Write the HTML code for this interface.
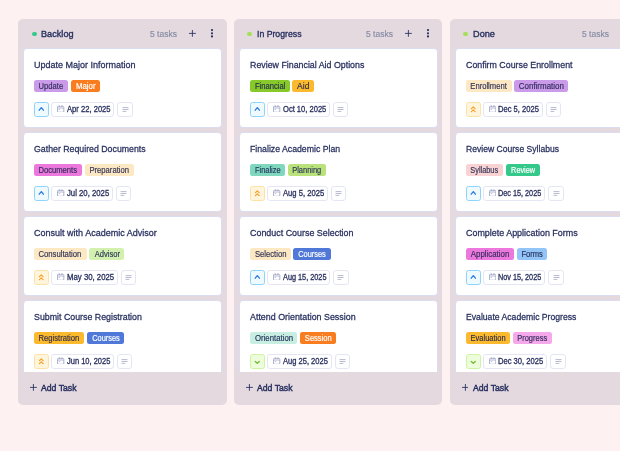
<!DOCTYPE html>
<html><head><meta charset="utf-8"><style>
*{box-sizing:border-box;margin:0;padding:0}
html,body{width:620px;height:451px;overflow:hidden;background:#fdf1f1;font-family:"Liberation Sans",sans-serif;color:#28305f}
.col{position:absolute;top:18.55px;width:208.3px;height:386.5px;background:#e3d9df;border-radius:5px;overflow:hidden}
.page{position:absolute;left:0;top:0;width:620px;height:451px;will-change:transform}
.dot{position:absolute;width:4.8px;height:4.8px;border-radius:50%}
.ttl{position:absolute;transform-origin:0 0;top:10.2px;line-height:10px;white-space:nowrap;font-size:9.4px;-webkit-text-stroke:0.35px #28305f}
.cnt{position:absolute;transform-origin:0 0;top:10.0px;line-height:10px;white-space:nowrap;font-size:8.5px;color:#878aa5;-webkit-text-stroke:0.15px #878aa5}
.plus{position:absolute;top:11.85px;width:6.8px;height:6.8px}
.kb{position:absolute;top:10.45px;width:4px;height:10px}
.list{position:absolute;left:4.75px;top:29.8px;width:199px;height:323.45px;overflow:hidden}
.card{position:absolute;left:0;width:198.8px;height:79.6px;background:#fff;border:1px solid #dadcf1;border-radius:4px}
.ct{position:absolute;transform-origin:0 0;top:10.4px;line-height:10px;white-space:nowrap;font-size:9.7px;-webkit-text-stroke:0.28px #28305f}
.tags{position:absolute;left:10.1px;top:30.4px;height:12px;display:flex}
.tag{position:absolute;top:30.4px;height:12px;line-height:12px;padding-top:0.7px;text-align:center;border-radius:2.5px;white-space:nowrap;font-size:8.6px;-webkit-text-stroke:0.18px currentColor}
.pr{position:absolute;left:10.1px;top:52.5px;width:15.0px;height:14.7px;border-radius:2.5px}
.pr svg{position:absolute;left:-0.9px;top:-0.9px}
.pu{background:#effaff;border:0.9px solid #8ed3fb}
.pd{background:#fff5dc;border:0.9px solid #fde2a6}
.pg{background:#edfcdb;border:0.9px solid #d0f2a3}
.dt{position:absolute;top:52.5px;height:14.7px;border:0.9px solid #e5e6f4;border-radius:3px}
.cal{position:absolute;left:4.9px;top:2.0px}
.dtx{position:absolute;transform-origin:0 0;top:2.0px;line-height:10px;white-space:nowrap;color:#2a3160;font-size:8.2px;-webkit-text-stroke:0.3px #2a3160}
.nb{position:absolute;top:52.5px;width:15.5px;height:14.7px;border:0.9px solid #e5e6f4;border-radius:3px;display:flex;align-items:center;justify-content:center}
.add{position:absolute;top:364.3px;line-height:10px;white-space:nowrap}
.add svg{position:absolute;left:0;top:1.2px}
.add span{position:absolute;transform-origin:0 0;top:0;font-size:9.2px;-webkit-text-stroke:0.45px #28305f}
.tag i{font-style:normal;display:inline-block;transform-origin:50% 50%}
</style></head><body><div class="page">

<div class="col" style="left:18.35px">
<div class="dot" style="background:#34c98b;left:13.40px;top:13.05px"></div>
<div class="ttl" style="left:23.01px;transform:scaleX(0.9767)">Backlog</div>
<div class="cnt" style="left:131.60px;transform:scaleX(1.0011)">5 tasks</div>
<svg class="plus" style="left:170.65px" viewBox="0 0 7 7"><path d="M3.5 0 V7 M0 3.5 H7" stroke="#28305f" stroke-width="0.9"/></svg>
<svg class="kb" style="left:191.6px" viewBox="0 0 4 10"><circle cx="2" cy="1.1" r="1.1" fill="#28305f"/><circle cx="2" cy="4.3" r="1.1" fill="#28305f"/><circle cx="2" cy="7.45" r="1.1" fill="#28305f"/></svg>
<div class="list">
<div class="card" style="top:0.00px">
<div class="ct" style="left:10.06px;transform:scaleX(0.9298)">Update Major Information</div>
<span class="tag" style="left:10.10px;width:33.9px;background:#c99be8;color:#352d5e"><i style="transform:scaleX(0.8841)">Update</i></span><span class="tag" style="left:46.93px;width:29.2px;background:#f97c1f;color:#ffffff"><i style="transform:scaleX(0.9121)">Major</i></span>
<div class="pr pu"><svg width="15" height="14.7" viewBox="0 0 15 14.7"><path d="M5.2 8.2 L7.3 5.6 L9.4 8.2" fill="none" stroke="#2f7fe0" stroke-width="1.35" stroke-linecap="round" stroke-linejoin="round"/></svg></div>
<div class="dt" style="left:27.40px;width:62.80px"><svg class="cal" width="7.4" height="7.6" viewBox="0 0 7.4 7.6"><rect x="0.45" y="1.35" width="6.4" height="5.9" rx="0.9" fill="none" stroke="#8e93ba" stroke-width="0.75"/><path d="M0.7 3.0 H6.6" stroke="#8e93ba" stroke-width="0.7"/><rect x="0.8" y="1.6" width="5.7" height="1.4" fill="#d9dbeb"/><path d="M2.3 0.4 V2.0 M4.9 0.4 V2.0" stroke="#8e93ba" stroke-width="0.7"/><circle cx="2.3" cy="4.5" r="0.55" fill="#9a9ec4"/></svg><div class="dtx" style="left:14.38px;transform:scaleX(0.9296)">Apr 22, 2025</div></div>
<div class="nb" style="left:93.20px"><svg width="7" height="5" viewBox="0 0 7 5"><path d="M0.5 0.6 H6.5 M0.5 2.5 H6.5 M0.5 4.4 H4.3" stroke="#9fa3c1" stroke-width="0.75"/></svg></div>
</div>
<div class="card" style="top:84.00px">
<div class="ct" style="left:10.19px;transform:scaleX(0.9054)">Gather Required Documents</div>
<span class="tag" style="left:10.10px;width:48.0px;background:#ec78dd;color:#352d5e"><i style="transform:scaleX(0.8855)">Documents</i></span><span class="tag" style="left:61.25px;width:48.6px;background:#fde8c4;color:#343558"><i style="transform:scaleX(0.8901)">Preparation</i></span>
<div class="pr pu"><svg width="15" height="14.7" viewBox="0 0 15 14.7"><path d="M5.2 8.2 L7.3 5.6 L9.4 8.2" fill="none" stroke="#2f7fe0" stroke-width="1.35" stroke-linecap="round" stroke-linejoin="round"/></svg></div>
<div class="dt" style="left:27.40px;width:61.40px"><svg class="cal" width="7.4" height="7.6" viewBox="0 0 7.4 7.6"><rect x="0.45" y="1.35" width="6.4" height="5.9" rx="0.9" fill="none" stroke="#8e93ba" stroke-width="0.75"/><path d="M0.7 3.0 H6.6" stroke="#8e93ba" stroke-width="0.7"/><rect x="0.8" y="1.6" width="5.7" height="1.4" fill="#d9dbeb"/><path d="M2.3 0.4 V2.0 M4.9 0.4 V2.0" stroke="#8e93ba" stroke-width="0.7"/><circle cx="2.3" cy="4.5" r="0.55" fill="#9a9ec4"/></svg><div class="dtx" style="left:14.29px;transform:scaleX(0.9463)">Jul 20, 2025</div></div>
<div class="nb" style="left:91.80px"><svg width="7" height="5" viewBox="0 0 7 5"><path d="M0.5 0.6 H6.5 M0.5 2.5 H6.5 M0.5 4.4 H4.3" stroke="#9fa3c1" stroke-width="0.75"/></svg></div>
</div>
<div class="card" style="top:168.00px">
<div class="ct" style="left:10.17px;transform:scaleX(0.9311)">Consult with Academic Advisor</div>
<span class="tag" style="left:10.10px;width:52.4px;background:#fde8c4;color:#343558"><i style="transform:scaleX(0.9001)">Consultation</i></span><span class="tag" style="left:65.30px;width:35.0px;background:#d3f0ae;color:#2d3a5a"><i style="transform:scaleX(0.8794)">Advisor</i></span>
<div class="pr pd"><svg width="15" height="14.7" viewBox="0 0 15 14.7"><path d="M5.4 6.65 L7.25 4.95 L9.1 6.65 M5.4 9.6 L7.25 7.9 L9.1 9.6" fill="none" stroke="#f8a12a" stroke-width="1.25" stroke-linecap="round" stroke-linejoin="round"/></svg></div>
<div class="dt" style="left:27.40px;width:66.20px"><svg class="cal" width="7.4" height="7.6" viewBox="0 0 7.4 7.6"><rect x="0.45" y="1.35" width="6.4" height="5.9" rx="0.9" fill="none" stroke="#8e93ba" stroke-width="0.75"/><path d="M0.7 3.0 H6.6" stroke="#8e93ba" stroke-width="0.7"/><rect x="0.8" y="1.6" width="5.7" height="1.4" fill="#d9dbeb"/><path d="M2.3 0.4 V2.0 M4.9 0.4 V2.0" stroke="#8e93ba" stroke-width="0.7"/><circle cx="2.3" cy="4.5" r="0.55" fill="#9a9ec4"/></svg><div class="dtx" style="left:14.12px;transform:scaleX(0.9512)">May 30, 2025</div></div>
<div class="nb" style="left:96.60px"><svg width="7" height="5" viewBox="0 0 7 5"><path d="M0.5 0.6 H6.5 M0.5 2.5 H6.5 M0.5 4.4 H4.3" stroke="#9fa3c1" stroke-width="0.75"/></svg></div>
</div>
<div class="card" style="top:252.00px">
<div class="ct" style="left:10.07px;transform:scaleX(0.9105)">Submit Course Registration</div>
<span class="tag" style="left:10.10px;width:49.9px;background:#fbb92e;color:#33304a"><i style="transform:scaleX(0.8878)">Registration</i></span><span class="tag" style="left:63.00px;width:37.0px;background:#4f78d8;color:#ffffff"><i style="transform:scaleX(0.8577)">Courses</i></span>
<div class="pr pd"><svg width="15" height="14.7" viewBox="0 0 15 14.7"><path d="M5.4 6.65 L7.25 4.95 L9.1 6.65 M5.4 9.6 L7.25 7.9 L9.1 9.6" fill="none" stroke="#f8a12a" stroke-width="1.25" stroke-linecap="round" stroke-linejoin="round"/></svg></div>
<div class="dt" style="left:27.40px;width:62.30px"><svg class="cal" width="7.4" height="7.6" viewBox="0 0 7.4 7.6"><rect x="0.45" y="1.35" width="6.4" height="5.9" rx="0.9" fill="none" stroke="#8e93ba" stroke-width="0.75"/><path d="M0.7 3.0 H6.6" stroke="#8e93ba" stroke-width="0.7"/><rect x="0.8" y="1.6" width="5.7" height="1.4" fill="#d9dbeb"/><path d="M2.3 0.4 V2.0 M4.9 0.4 V2.0" stroke="#8e93ba" stroke-width="0.7"/><circle cx="2.3" cy="4.5" r="0.55" fill="#9a9ec4"/></svg><div class="dtx" style="left:14.30px;transform:scaleX(0.9147)">Jun 10, 2025</div></div>
<div class="nb" style="left:92.70px"><svg width="7" height="5" viewBox="0 0 7 5"><path d="M0.5 0.6 H6.5 M0.5 2.5 H6.5 M0.5 4.4 H4.3" stroke="#9fa3c1" stroke-width="0.75"/></svg></div>
</div>
</div>
<div class="add" style="left:11.75px"><svg width="6.8" height="6.8" viewBox="0 0 7 7"><path d="M3.5 0 V7 M0 3.5 H7" stroke="#28305f" stroke-width="0.9"/></svg><span style="left:11.09px;transform:scaleX(0.9437)">Add Task</span></div>
</div>
<div class="col" style="left:234.15px">
<div class="dot" style="background:#a5e05a;left:13.10px;top:13.05px"></div>
<div class="ttl" style="left:23.25px;transform:scaleX(0.9280)">In Progress</div>
<div class="cnt" style="left:131.60px;transform:scaleX(1.0011)">5 tasks</div>
<svg class="plus" style="left:170.65px" viewBox="0 0 7 7"><path d="M3.5 0 V7 M0 3.5 H7" stroke="#28305f" stroke-width="0.9"/></svg>
<svg class="kb" style="left:191.6px" viewBox="0 0 4 10"><circle cx="2" cy="1.1" r="1.1" fill="#28305f"/><circle cx="2" cy="4.3" r="1.1" fill="#28305f"/><circle cx="2" cy="7.45" r="1.1" fill="#28305f"/></svg>
<div class="list">
<div class="card" style="top:0.00px">
<div class="ct" style="left:10.04px;transform:scaleX(0.9114)">Review Financial Aid Options</div>
<span class="tag" style="left:10.10px;width:39.7px;background:#86c928;color:#263250"><i style="transform:scaleX(0.8901)">Financial</i></span><span class="tag" style="left:52.16px;width:21.7px;background:#fbb92e;color:#33304a"><i style="transform:scaleX(0.9904)">Aid</i></span>
<div class="pr pu"><svg width="15" height="14.7" viewBox="0 0 15 14.7"><path d="M5.2 8.2 L7.3 5.6 L9.4 8.2" fill="none" stroke="#2f7fe0" stroke-width="1.35" stroke-linecap="round" stroke-linejoin="round"/></svg></div>
<div class="dt" style="left:27.40px;width:62.40px"><svg class="cal" width="7.4" height="7.6" viewBox="0 0 7.4 7.6"><rect x="0.45" y="1.35" width="6.4" height="5.9" rx="0.9" fill="none" stroke="#8e93ba" stroke-width="0.75"/><path d="M0.7 3.0 H6.6" stroke="#8e93ba" stroke-width="0.7"/><rect x="0.8" y="1.6" width="5.7" height="1.4" fill="#d9dbeb"/><path d="M2.3 0.4 V2.0 M4.9 0.4 V2.0" stroke="#8e93ba" stroke-width="0.7"/><circle cx="2.3" cy="4.5" r="0.55" fill="#9a9ec4"/></svg><div class="dtx" style="left:14.25px;transform:scaleX(0.9237)">Oct 10, 2025</div></div>
<div class="nb" style="left:92.80px"><svg width="7" height="5" viewBox="0 0 7 5"><path d="M0.5 0.6 H6.5 M0.5 2.5 H6.5 M0.5 4.4 H4.3" stroke="#9fa3c1" stroke-width="0.75"/></svg></div>
</div>
<div class="card" style="top:84.00px">
<div class="ct" style="left:10.04px;transform:scaleX(0.9000)">Finalize Academic Plan</div>
<span class="tag" style="left:10.10px;width:34.8px;background:#7fd8bd;color:#263a5e"><i style="transform:scaleX(0.8611)">Finalize</i></span><span class="tag" style="left:47.70px;width:38.1px;background:#b9e27a;color:#2d3a5a"><i style="transform:scaleX(0.8651)">Planning</i></span>
<div class="pr pd"><svg width="15" height="14.7" viewBox="0 0 15 14.7"><path d="M5.4 6.65 L7.25 4.95 L9.1 6.65 M5.4 9.6 L7.25 7.9 L9.1 9.6" fill="none" stroke="#f8a12a" stroke-width="1.25" stroke-linecap="round" stroke-linejoin="round"/></svg></div>
<div class="dt" style="left:27.40px;width:60.40px"><svg class="cal" width="7.4" height="7.6" viewBox="0 0 7.4 7.6"><rect x="0.45" y="1.35" width="6.4" height="5.9" rx="0.9" fill="none" stroke="#8e93ba" stroke-width="0.75"/><path d="M0.7 3.0 H6.6" stroke="#8e93ba" stroke-width="0.7"/><rect x="0.8" y="1.6" width="5.7" height="1.4" fill="#d9dbeb"/><path d="M2.3 0.4 V2.0 M4.9 0.4 V2.0" stroke="#8e93ba" stroke-width="0.7"/><circle cx="2.3" cy="4.5" r="0.55" fill="#9a9ec4"/></svg><div class="dtx" style="left:14.38px;transform:scaleX(0.9350)">Aug 5, 2025</div></div>
<div class="nb" style="left:90.80px"><svg width="7" height="5" viewBox="0 0 7 5"><path d="M0.5 0.6 H6.5 M0.5 2.5 H6.5 M0.5 4.4 H4.3" stroke="#9fa3c1" stroke-width="0.75"/></svg></div>
</div>
<div class="card" style="top:168.00px">
<div class="ct" style="left:10.18px;transform:scaleX(0.9196)">Conduct Course Selection</div>
<span class="tag" style="left:10.10px;width:40.6px;background:#fde8c4;color:#343558"><i style="transform:scaleX(0.8915)">Selection</i></span><span class="tag" style="left:53.50px;width:37.2px;background:#4f78d8;color:#ffffff"><i style="transform:scaleX(0.8641)">Courses</i></span>
<div class="pr pu"><svg width="15" height="14.7" viewBox="0 0 15 14.7"><path d="M5.2 8.2 L7.3 5.6 L9.4 8.2" fill="none" stroke="#2f7fe0" stroke-width="1.35" stroke-linecap="round" stroke-linejoin="round"/></svg></div>
<div class="dt" style="left:27.40px;width:62.90px"><svg class="cal" width="7.4" height="7.6" viewBox="0 0 7.4 7.6"><rect x="0.45" y="1.35" width="6.4" height="5.9" rx="0.9" fill="none" stroke="#8e93ba" stroke-width="0.75"/><path d="M0.7 3.0 H6.6" stroke="#8e93ba" stroke-width="0.7"/><rect x="0.8" y="1.6" width="5.7" height="1.4" fill="#d9dbeb"/><path d="M2.3 0.4 V2.0 M4.9 0.4 V2.0" stroke="#8e93ba" stroke-width="0.7"/><circle cx="2.3" cy="4.5" r="0.55" fill="#9a9ec4"/></svg><div class="dtx" style="left:14.39px;transform:scaleX(0.8931)">Aug 15, 2025</div></div>
<div class="nb" style="left:93.30px"><svg width="7" height="5" viewBox="0 0 7 5"><path d="M0.5 0.6 H6.5 M0.5 2.5 H6.5 M0.5 4.4 H4.3" stroke="#9fa3c1" stroke-width="0.75"/></svg></div>
</div>
<div class="card" style="top:252.00px">
<div class="ct" style="left:10.38px;transform:scaleX(0.9162)">Attend Orientation Session</div>
<span class="tag" style="left:10.10px;width:47.4px;background:#c8eee2;color:#28365e"><i style="transform:scaleX(0.9052)">Orientation</i></span><span class="tag" style="left:60.30px;width:35.8px;background:#f97c1f;color:#ffffff"><i style="transform:scaleX(0.8790)">Session</i></span>
<div class="pr pg"><svg width="15" height="14.7" viewBox="0 0 15 14.7"><path d="M5.2 7.4 L7.25 9.2 L9.3 7.4" fill="none" stroke="#74be38" stroke-width="1.35" stroke-linecap="round" stroke-linejoin="round"/></svg></div>
<div class="dt" style="left:27.40px;width:64.30px"><svg class="cal" width="7.4" height="7.6" viewBox="0 0 7.4 7.6"><rect x="0.45" y="1.35" width="6.4" height="5.9" rx="0.9" fill="none" stroke="#8e93ba" stroke-width="0.75"/><path d="M0.7 3.0 H6.6" stroke="#8e93ba" stroke-width="0.7"/><rect x="0.8" y="1.6" width="5.7" height="1.4" fill="#d9dbeb"/><path d="M2.3 0.4 V2.0 M4.9 0.4 V2.0" stroke="#8e93ba" stroke-width="0.7"/><circle cx="2.3" cy="4.5" r="0.55" fill="#9a9ec4"/></svg><div class="dtx" style="left:14.38px;transform:scaleX(0.9221)">Aug 25, 2025</div></div>
<div class="nb" style="left:94.70px"><svg width="7" height="5" viewBox="0 0 7 5"><path d="M0.5 0.6 H6.5 M0.5 2.5 H6.5 M0.5 4.4 H4.3" stroke="#9fa3c1" stroke-width="0.75"/></svg></div>
</div>
</div>
<div class="add" style="left:11.75px"><svg width="6.8" height="6.8" viewBox="0 0 7 7"><path d="M3.5 0 V7 M0 3.5 H7" stroke="#28305f" stroke-width="0.9"/></svg><span style="left:11.09px;transform:scaleX(0.9437)">Add Task</span></div>
</div>
<div class="col" style="left:449.95px">
<div class="dot" style="background:#a5e05a;left:13.10px;top:13.05px"></div>
<div class="ttl" style="left:23.00px;transform:scaleX(0.9793)">Done</div>
<div class="cnt" style="left:132.00px;transform:scaleX(1.0011)">5 tasks</div>
<svg class="plus" style="left:170.65px" viewBox="0 0 7 7"><path d="M3.5 0 V7 M0 3.5 H7" stroke="#28305f" stroke-width="0.9"/></svg>
<svg class="kb" style="left:191.6px" viewBox="0 0 4 10"><circle cx="2" cy="1.1" r="1.1" fill="#28305f"/><circle cx="2" cy="4.3" r="1.1" fill="#28305f"/><circle cx="2" cy="7.45" r="1.1" fill="#28305f"/></svg>
<div class="list">
<div class="card" style="top:0.00px">
<div class="ct" style="left:10.18px;transform:scaleX(0.9116)">Confirm Course Enrollment</div>
<span class="tag" style="left:10.10px;width:45.9px;background:#fde8c4;color:#343558"><i style="transform:scaleX(0.8888)">Enrollment</i></span><span class="tag" style="left:58.17px;width:54.6px;background:#c99be8;color:#352d5e"><i style="transform:scaleX(0.9273)">Confirmation</i></span>
<div class="pr pd"><svg width="15" height="14.7" viewBox="0 0 15 14.7"><path d="M5.4 6.65 L7.25 4.95 L9.1 6.65 M5.4 9.6 L7.25 7.9 L9.1 9.6" fill="none" stroke="#f8a12a" stroke-width="1.25" stroke-linecap="round" stroke-linejoin="round"/></svg></div>
<div class="dt" style="left:27.40px;width:59.80px"><svg class="cal" width="7.4" height="7.6" viewBox="0 0 7.4 7.6"><rect x="0.45" y="1.35" width="6.4" height="5.9" rx="0.9" fill="none" stroke="#8e93ba" stroke-width="0.75"/><path d="M0.7 3.0 H6.6" stroke="#8e93ba" stroke-width="0.7"/><rect x="0.8" y="1.6" width="5.7" height="1.4" fill="#d9dbeb"/><path d="M2.3 0.4 V2.0 M4.9 0.4 V2.0" stroke="#8e93ba" stroke-width="0.7"/><circle cx="2.3" cy="4.5" r="0.55" fill="#9a9ec4"/></svg><div class="dtx" style="left:14.13px;transform:scaleX(0.9269)">Dec 5, 2025</div></div>
<div class="nb" style="left:90.20px"><svg width="7" height="5" viewBox="0 0 7 5"><path d="M0.5 0.6 H6.5 M0.5 2.5 H6.5 M0.5 4.4 H4.3" stroke="#9fa3c1" stroke-width="0.75"/></svg></div>
</div>
<div class="card" style="top:84.00px">
<div class="ct" style="left:10.05px;transform:scaleX(0.8857)">Review Course Syllabus</div>
<span class="tag" style="left:10.10px;width:37.3px;background:#f9d3d3;color:#343558"><i style="transform:scaleX(0.8557)">Syllabus</i></span><span class="tag" style="left:50.40px;width:33.7px;background:#34c98b;color:#ffffff"><i style="transform:scaleX(0.8510)">Review</i></span>
<div class="pr pu"><svg width="15" height="14.7" viewBox="0 0 15 14.7"><path d="M5.2 8.2 L7.3 5.6 L9.4 8.2" fill="none" stroke="#2f7fe0" stroke-width="1.35" stroke-linecap="round" stroke-linejoin="round"/></svg></div>
<div class="dt" style="left:27.40px;width:62.40px"><svg class="cal" width="7.4" height="7.6" viewBox="0 0 7.4 7.6"><rect x="0.45" y="1.35" width="6.4" height="5.9" rx="0.9" fill="none" stroke="#8e93ba" stroke-width="0.75"/><path d="M0.7 3.0 H6.6" stroke="#8e93ba" stroke-width="0.7"/><rect x="0.8" y="1.6" width="5.7" height="1.4" fill="#d9dbeb"/><path d="M2.3 0.4 V2.0 M4.9 0.4 V2.0" stroke="#8e93ba" stroke-width="0.7"/><circle cx="2.3" cy="4.5" r="0.55" fill="#9a9ec4"/></svg><div class="dtx" style="left:14.15px;transform:scaleX(0.8877)">Dec 15, 2025</div></div>
<div class="nb" style="left:92.80px"><svg width="7" height="5" viewBox="0 0 7 5"><path d="M0.5 0.6 H6.5 M0.5 2.5 H6.5 M0.5 4.4 H4.3" stroke="#9fa3c1" stroke-width="0.75"/></svg></div>
</div>
<div class="card" style="top:168.00px">
<div class="ct" style="left:10.18px;transform:scaleX(0.9214)">Complete Application Forms</div>
<span class="tag" style="left:10.10px;width:48.0px;background:#ec78dd;color:#352d5e"><i style="transform:scaleX(0.9157)">Application</i></span><span class="tag" style="left:60.90px;width:30.6px;background:#93c4f8;color:#28325e"><i style="transform:scaleX(0.8807)">Forms</i></span>
<div class="pr pu"><svg width="15" height="14.7" viewBox="0 0 15 14.7"><path d="M5.2 8.2 L7.3 5.6 L9.4 8.2" fill="none" stroke="#2f7fe0" stroke-width="1.35" stroke-linecap="round" stroke-linejoin="round"/></svg></div>
<div class="dt" style="left:27.40px;width:62.40px"><svg class="cal" width="7.4" height="7.6" viewBox="0 0 7.4 7.6"><rect x="0.45" y="1.35" width="6.4" height="5.9" rx="0.9" fill="none" stroke="#8e93ba" stroke-width="0.75"/><path d="M0.7 3.0 H6.6" stroke="#8e93ba" stroke-width="0.7"/><rect x="0.8" y="1.6" width="5.7" height="1.4" fill="#d9dbeb"/><path d="M2.3 0.4 V2.0 M4.9 0.4 V2.0" stroke="#8e93ba" stroke-width="0.7"/><circle cx="2.3" cy="4.5" r="0.55" fill="#9a9ec4"/></svg><div class="dtx" style="left:14.15px;transform:scaleX(0.8877)">Nov 15, 2025</div></div>
<div class="nb" style="left:92.80px"><svg width="7" height="5" viewBox="0 0 7 5"><path d="M0.5 0.6 H6.5 M0.5 2.5 H6.5 M0.5 4.4 H4.3" stroke="#9fa3c1" stroke-width="0.75"/></svg></div>
</div>
<div class="card" style="top:252.00px">
<div class="ct" style="left:10.04px;transform:scaleX(0.8916)">Evaluate Academic Progress</div>
<span class="tag" style="left:10.10px;width:44.1px;background:#fbb92e;color:#33304a"><i style="transform:scaleX(0.8712)">Evaluation</i></span><span class="tag" style="left:57.20px;width:39.1px;background:#f6a9ea;color:#352d5e"><i style="transform:scaleX(0.8714)">Progress</i></span>
<div class="pr pg"><svg width="15" height="14.7" viewBox="0 0 15 14.7"><path d="M5.2 7.4 L7.25 9.2 L9.3 7.4" fill="none" stroke="#74be38" stroke-width="1.35" stroke-linecap="round" stroke-linejoin="round"/></svg></div>
<div class="dt" style="left:27.40px;width:64.30px"><svg class="cal" width="7.4" height="7.6" viewBox="0 0 7.4 7.6"><rect x="0.45" y="1.35" width="6.4" height="5.9" rx="0.9" fill="none" stroke="#8e93ba" stroke-width="0.75"/><path d="M0.7 3.0 H6.6" stroke="#8e93ba" stroke-width="0.7"/><rect x="0.8" y="1.6" width="5.7" height="1.4" fill="#d9dbeb"/><path d="M2.3 0.4 V2.0 M4.9 0.4 V2.0" stroke="#8e93ba" stroke-width="0.7"/><circle cx="2.3" cy="4.5" r="0.55" fill="#9a9ec4"/></svg><div class="dtx" style="left:14.13px;transform:scaleX(0.9273)">Dec 30, 2025</div></div>
<div class="nb" style="left:94.70px"><svg width="7" height="5" viewBox="0 0 7 5"><path d="M0.5 0.6 H6.5 M0.5 2.5 H6.5 M0.5 4.4 H4.3" stroke="#9fa3c1" stroke-width="0.75"/></svg></div>
</div>
</div>
<div class="add" style="left:11.75px"><svg width="6.8" height="6.8" viewBox="0 0 7 7"><path d="M3.5 0 V7 M0 3.5 H7" stroke="#28305f" stroke-width="0.9"/></svg><span style="left:11.09px;transform:scaleX(0.9437)">Add Task</span></div>
</div>
</div></body></html>
